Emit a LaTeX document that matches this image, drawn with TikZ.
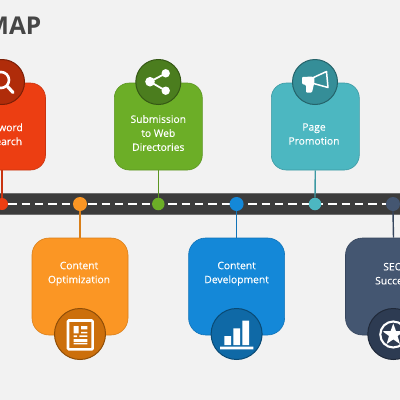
\documentclass[tikz,border=0pt]{standalone}
\usepackage{fontspec}
\setmainfont{Open Sans}
\newfontfamily\lblfont[FakeBold=0.25]{Open Sans}
\definecolor{bgc}{HTML}{F2F2F2}
\definecolor{roadc}{HTML}{3C3C3C}
\definecolor{roade}{HTML}{6E6E6E}
\definecolor{redm}{HTML}{EC3E12}\definecolor{redd}{HTML}{B02C0A}\definecolor{redl}{HTML}{C93410}
\definecolor{grnm}{HTML}{6CAE27}\definecolor{grnd}{HTML}{4B7D1E}\definecolor{grnl}{HTML}{5C9622}
\definecolor{team}{HTML}{4CB7C1}\definecolor{tead}{HTML}{358E98}\definecolor{teal2}{HTML}{3C99A3}
\definecolor{orgm}{HTML}{FB9624}\definecolor{orgd}{HTML}{CC6F0C}\definecolor{orgl}{HTML}{D97F1A}
\definecolor{blum}{HTML}{1488D8}\definecolor{blud}{HTML}{0F69A6}\definecolor{blul}{HTML}{1173B8}
\definecolor{navm}{HTML}{445671}\definecolor{navd}{HTML}{2D3B52}\definecolor{navl}{HTML}{36465E}
\tikzset{
 card/.style={draw=#1,line width=.6pt,rounded corners=15pt,inner sep=0pt},
 topcard/.style={card=#1,minimum width=88pt,minimum height=87pt},
 botcard/.style={card=#1,minimum width=96pt,minimum height=97pt,rounded corners=17pt},
 badge/.style={circle,inner sep=0pt,draw=#1!70!black,line width=1pt},
 topbadge/.style={badge=#1,fill=#1,minimum size=45pt},
 botbadge/.style={badge=#1,fill=#1,minimum size=51pt},
 dotn/.style={circle,inner sep=0pt,minimum size=#1},
 link/.style={line width=1.4pt},
 lbl/.style={text=white,font=\lblfont\fontsize{10.3}{14}\selectfont,align=center,inner sep=0pt},
 ico/.style={white,line width=#1,line cap=round,line join=round},
 ico/.default=1pt
}
\begin{document}
\begin{tikzpicture}[x=1pt,y=-1pt]
\useasboundingbox (0,0) rectangle (400,400);
\clip (0,0) rectangle (400,400);
\fill[bgc] (0,0) rectangle (400,400);
% title
\node[anchor=east,inner sep=0pt,text=roadc!95!white,font=\fontsize{24.5}{27}\bfseries\selectfont] (title) at (41.5,25.5) {MAP};
% road
\fill[roadc] (0,193.3) rectangle (400,214);
\draw[roade,line width=.6pt] (0,193.3) -- (400,193.3) (0,214) -- (400,214);
\draw[white,line width=1.3pt,dash pattern=on 8.33pt off 5pt,dash phase=4.93pt] (0,204) -- (400,204);
% dots
\node[dotn=12pt,fill=redm] (d1) at (2,204) {};
\node[dotn=14pt,fill=orgm] (d2) at (80,204) {};
\node[dotn=12.5pt,fill=grnm] (d3) at (158.3,204) {};
\node[dotn=14pt,fill=blum] (d4) at (236.6,204) {};
\node[dotn=12.5pt,fill=team] (d5) at (315,204) {};
\node[dotn=14pt,fill=navm] (d6) at (393,204) {};
% cards
\node[topcard=redl,fill=redm] (c1) at (1.5,126.5) {};
\node[topcard=grnl,fill=grnm] (c3) at (158.3,126.5) {};
\node[topcard=teal2,fill=team] (c5) at (315.3,126.5) {};
\node[botcard=orgl,fill=orgm] (c2) at (80,286.5) {};
\node[botcard=blul,fill=blum] (c4) at (236.6,286.5) {};
\node[botcard=navl,fill=navm] (c6) at (393.5,286.5) {};
% connectors
\draw[link,redl] (c1.south -| d1) -- (d1.north);
\draw[link,grnl] (c3.south) -- (d3.north);
\draw[link,teal2] (c5.south) -- (d5.north);
\draw[link,orgl] (d2.south) -- (c2.north);
\draw[link,blul] (d4.south) -- (c4.north);
\draw[link,navl] (d6.south) -- (c6.north);
% labels
\node[lbl,anchor=east] (t1a) at (23,127.3) {word};
\node[lbl,anchor=east] (t1b) at (22.3,141.3) {earch};
\node[lbl] (t3) at (158.3,133) {Submission\\to Web\\Directories};
\node[lbl] (t5) at (314,134) {Page\\Promotion};
\node[lbl] (t2) at (79,273.7) {Content\\Optimization};
\node[lbl] (t4) at (236.6,273.7) {Content\\Development};
\node[lbl] (t6a) at (393,266.7) {SEO};
\node[lbl,anchor=west] (t6b) at (375,280.7) {Succe};
% badges
\node[topbadge=redd] (b1) at (2,82) {};
\node[topbadge=grnd] (b3) at (158.3,82) {};
\node[topbadge=tead] (b5) at (315,82) {};
\node[botbadge=orgd] (b2) at (80,334) {};
\node[botbadge=blud] (b4) at (236.6,334) {};
\node[botbadge=navd] (b6) at (393.3,334) {};
% magnifier
\draw[ico=2.6pt] (1,80) circle (8);
\draw[ico=3.2pt] (7.5,86.5) -- (13,92.5);
% share
\draw[ico=1.8pt] (150,81.7) -- (165.7,73.3) (150,81.7) -- (165.7,90.7);
\fill[white] (150,81.7) circle (4.8) (165.7,73.3) circle (4.2) (165.7,90.7) circle (4.2);
% megaphone
\draw[white,line width=1.5pt,line join=round] (313.5,77.5) -- (326.5,71.5) -- (328,87.5) -- (313.5,83.5) -- cycle;
\fill[white,rounded corners=1pt] (302,77) -- (313,76.5) -- (314,84) -- (312,92.5) -- (306,92.5) -- (306,85) -- (302,84) -- cycle;
% document
\draw[white,line width=2.6pt,rounded corners=1pt] (68,320.5) rectangle (92.6,349.4);
\fill[white] (73.7,326) rectangle (78.7,333.3)
 (81,326) rectangle (87.3,329.3) (81,331.8) rectangle (87.3,333.3)
 (73.7,335.3) rectangle (77,337) (79.3,335.3) rectangle (87.3,336.8)
 (73.7,339) rectangle (87.3,342) (73.7,343) rectangle (87.3,344.3);
% bars
\fill[white] (220,346.7) rectangle (253.3,349.3)
 (224.3,336) rectangle (231,345)
 (233.3,328.3) rectangle (240,345)
 (242.3,320.7) rectangle (249,345);
% star
\draw[white,line width=2.1pt] (393.3,334.5) circle (13);
\fill[white] (393.3,323.5) -- (396,331) -- (404,331.3) -- (397.6,336) -- (400,344) -- (393.3,339.4) -- (386.6,344) -- (389,336) -- (382.6,331.3) -- (390.6,331) -- cycle;
\end{tikzpicture}
\end{document}
